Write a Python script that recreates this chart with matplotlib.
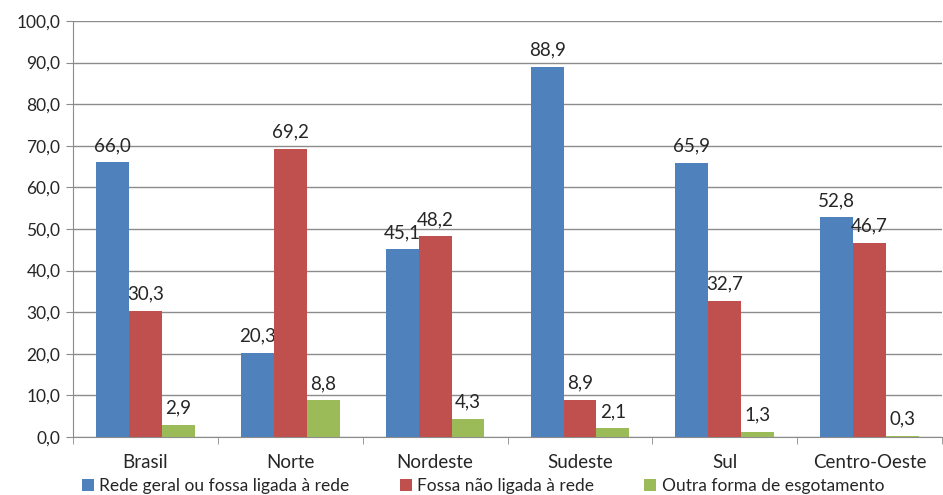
import numpy as np
import matplotlib.pyplot as plt
from matplotlib.patches import Patch

plt.rcParams['font.family'] = ['Lato', 'DejaVu Sans']

regioes = ["Brasil", "Norte", "Nordeste", "Sudeste", "Sul", "Centro-Oeste"]
rede_geral = [66.0, 20.3, 45.1, 88.9, 65.9, 52.8]
fossa = [30.3, 69.2, 48.2, 8.9, 32.7, 46.7]
outra = [2.9, 8.8, 4.3, 2.1, 1.3, 0.3]
series_nomes = ["Rede geral ou fossa ligada à rede",
                "Fossa não ligada à rede",
                "Outra forma de esgotamento"]
cores = ["#4F81BD", "#C0504D", "#9BBB59"]
yticks = np.arange(0, 101, 10)

def fmt(v):
    return f"{v:.1f}".replace(".", ",")

fig = plt.figure(figsize=(9.43, 4.95), dpi=100)
ax = fig.add_axes([0.0774, 0.1172, 0.9216, 0.8404])

x = np.arange(len(regioes))
w = 0.227
for i, (vals, cor) in enumerate(zip([rede_geral, fossa, outra], cores)):
    pos = x + (i - 1) * w
    ax.bar(pos, vals, width=w, color=cor, zorder=3)
    for px, v in zip(pos, vals):
        ax.annotate(fmt(v), (px, v), xytext=(0, 6), textcoords="offset points",
                    ha="center", va="bottom", fontsize=13.5, color="#262626")

ax.set_xlim(-0.5, len(regioes) - 0.5)
ax.set_ylim(0, 100)
ax.set_yticks(yticks)
ax.set_yticklabels([fmt(t) for t in yticks], fontsize=12.5, color="#262626")
ax.yaxis.grid(True, color="#8c8c8c", linewidth=1.0, zorder=0)
ax.tick_params(axis="y", length=5, color="#8c8c8c", pad=4)

# category labels in the middle, tick marks on the boundaries
ax.set_xticks(x)
ax.set_xticklabels(regioes, fontsize=13.5, color="#262626")
ax.tick_params(axis="x", length=0, pad=12)
ax.set_xticks(np.arange(-0.5, len(regioes) + 0.5, 1), minor=True)
ax.tick_params(axis="x", which="minor", length=5, color="#8c8c8c")

for s in ["top", "right"]:
    ax.spines[s].set_visible(False)
for s in ["left", "bottom"]:
    ax.spines[s].set_color("#8c8c8c")

handles = [Patch(facecolor=c, label=n) for c, n in zip(cores, series_nomes)]
fig.legend(handles=handles, loc="lower left", bbox_to_anchor=(0.07, -0.03),
           ncol=3, frameon=False, fontsize=12.5, handlelength=0.7,
           handleheight=0.7, handletextpad=0.3, columnspacing=2.9,
           labelcolor="#262626")

fig.savefig("out.png", dpi=100)
